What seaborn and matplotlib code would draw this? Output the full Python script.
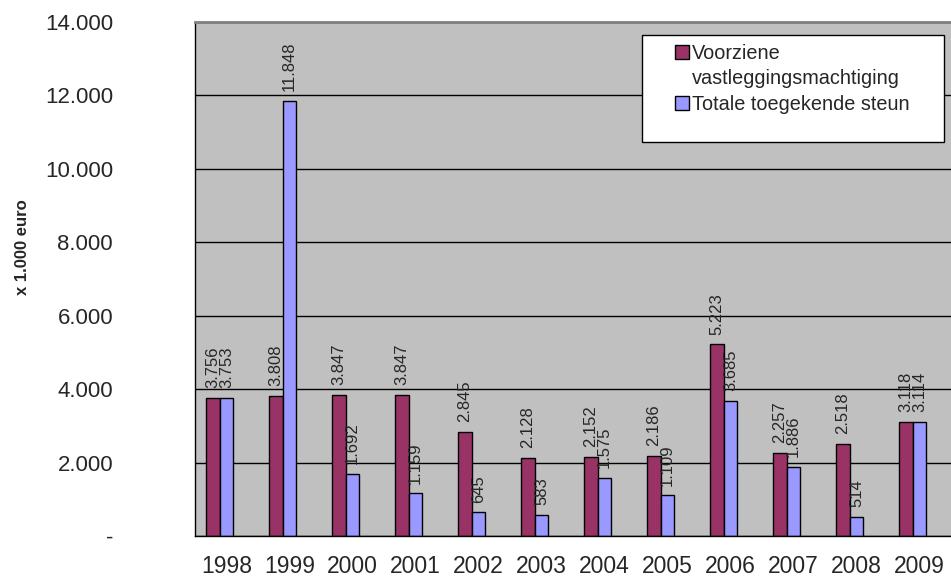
import pandas as pd
import seaborn as sns
import matplotlib.pyplot as plt
from matplotlib.patches import Patch, Rectangle
from matplotlib.ticker import FuncFormatter, FixedLocator

# values (x 1.000 euro)
years = ["1998", "1999", "2000", "2001", "2002", "2003",
         "2004", "2005", "2006", "2007", "2008", "2009"]
voorziene = [3756, 3808, 3847, 3847, 2845, 2128, 2152, 2186, 5223, 2257, 2518, 3118]
toegekend = [3753, 11848, 1692, 1159, 645, 583, 1575, 1109, 3685, 1886, 514, 3114]

s1 = "Voorziene vastleggingsmachtiging"
s2 = "Totale toegekende steun"
colors = {s1: "#993366", s2: "#9999FF", "leeg": "#FFFFFF"}

df = pd.DataFrame({
    "jaar": years * 2,
    "reeks": [s1] * len(years) + [s2] * len(years),
    "waarde": voorziene + toegekend,
})

def nl(v):
    return f"{int(v):,}".replace(",", ".")

sns.set_style("whitegrid", {
    "axes.facecolor": "#C0C0C0",
    "grid.color": "#000000",
    "axes.edgecolor": "#000000",
})
plt.rcParams["font.family"] = ["Liberation Sans", "DejaVu Sans"]

fig = plt.figure(figsize=(9.51, 5.79), dpi=100)
ax = fig.add_axes([195 / 951, 43 / 579, 756 / 951, 514 / 579])

# third (empty) hue slot mimics the Excel offset of the bar groups
sns.barplot(data=df, x="jaar", y="waarde", hue="reeks",
            hue_order=[s1, s2, "leeg"], palette=colors, order=years,
            width=0.65, saturation=1, edgecolor="black", linewidth=1,
            legend=False, ax=ax)

for cont in ax.containers:
    vals = [b.get_height() for b in cont]
    ax.bar_label(cont, labels=[nl(v) for v in vals], rotation=90,
                 padding=7, fontsize=12)

ax.set_ylim(0, 14000)
ax.set_yticks(range(0, 14001, 2000))
ax.yaxis.set_major_formatter(FuncFormatter(lambda v, p: "-" if v == 0 else nl(v)))
ax.set_xlim(-0.5, len(years) - 0.5)
ax.xaxis.set_minor_locator(FixedLocator([i - 0.5 for i in range(len(years) + 1)]))
ax.tick_params(axis="x", which="major", length=0, labelsize=16.5, pad=14)
ax.tick_params(axis="x", which="minor", length=5, width=1, direction="out", color="black")
ax.tick_params(axis="y", length=7, width=1, direction="out", color="black",
               labelsize=16, pad=52)
for t in ax.get_yticklabels():
    t.set_horizontalalignment("right")
ax.grid(axis="x", visible=False)
ax.grid(axis="y", color="black", linewidth=1)
ax.set_axisbelow(True)

ax.set_xlabel("")
ax.set_ylabel("x 1.000 euro", fontsize=12, fontweight="bold")
ax.yaxis.set_label_coords(-0.218, 0.562)

for side in ["left", "bottom"]:
    ax.spines[side].set_color("black")
    ax.spines[side].set_linewidth(1)
ax.spines["top"].set_color("#808080")
ax.spines["top"].set_linewidth(2)
ax.spines["right"].set_visible(False)

# legend: white box with black border, text entries on top
fig.patches.append(Rectangle((642 / 951, 1 - 142 / 579), 302 / 951, 107 / 579,
                             transform=fig.transFigure, facecolor="white",
                             edgecolor="black", linewidth=1, zorder=5))
handles = [Patch(facecolor=colors[s1], edgecolor="black"),
           Patch(facecolor="none", edgecolor="none"),
           Patch(facecolor=colors[s2], edgecolor="black")]
labels = ["Voorziene", "vastleggingsmachtiging", s2]
leg = fig.legend(handles, labels, loc="upper left",
                 bbox_to_anchor=(675 / 951, 1 - 44 / 579),
                 fontsize=14.3, frameon=False, handlelength=0.7,
                 handleheight=0.7, handletextpad=0.15, borderpad=0,
                 labelspacing=0.32, borderaxespad=0)
leg.set_zorder(6)

fig.savefig("out.png", dpi=100)
